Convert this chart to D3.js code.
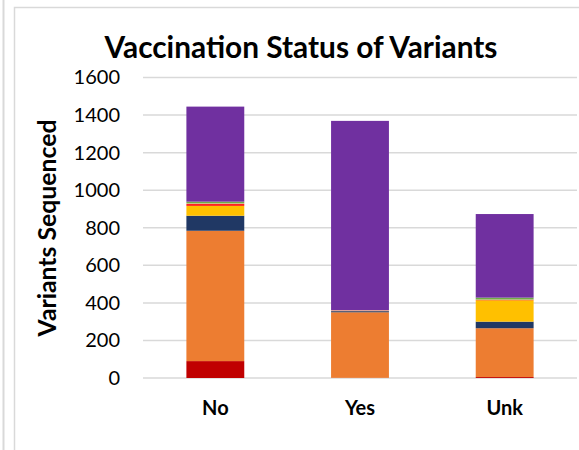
<!DOCTYPE html>
<html>
<head>
<meta charset="utf-8">
<script src="https://cdn.jsdelivr.net/npm/d3@7"></script>
<style>
  body { margin: 0; background: #fff; }
  text { font-family: Lato, "Open Sans", sans-serif; fill: #000; }
</style>
</head>
<body>
<div id="chart"></div>
<script>
// categories and stacked series (bottom to top)
var categories = ['No', 'Yes', 'Unk'];
var seriesNames = ['Other', 'Delta', 'Alpha', 'Gamma', 'Mu', 'BA.2', 'BA.1.1', 'Omicron'];
var seriesColors = ['#C00000', '#ED7D31', '#203864', '#FFC000', '#FF0000', '#F4B183', '#70AD47', '#7030A0'];
var otherVals   = [90, 1, 5];
var deltaVals   = [694, 349, 260];
var alphaVals   = [80, 6, 35];
var gammaVals   = [53, 0, 114];
var muVals      = [9, 0, 2];
var ba2Vals     = [4, 5, 2];
var ba11Vals    = [9, 0, 10];
var omicronVals = [506, 1008, 445];
var yTicks = [0, 200, 400, 600, 800, 1000, 1200, 1400, 1600];

var W = 579, H = 450;
var svg = d3.select('#chart').append('svg').attr('width', W).attr('height', H);

// frame lines
svg.append('line').attr('x1', 3.5).attr('x2', 3.5).attr('y1', 0).attr('y2', H)
    .attr('stroke', '#D9D9D9').attr('stroke-width', 2);
svg.append('path').attr('d', 'M14.5,' + H + 'V7.5H' + W)
    .attr('fill', 'none').attr('stroke', '#D9D9D9').attr('stroke-width', 1.5);

var allSeries = [otherVals, deltaVals, alphaVals, gammaVals, muVals, ba2Vals, ba11Vals, omicronVals];
var rows = categories.map(function(c, i) {
    var r = {cat: c};
    seriesNames.forEach(function(s, j) { r[s] = allSeries[j][i]; });
    return r;
});

var x = d3.scaleBand().domain(categories).range([143, 577]).paddingInner(0.6).paddingOuter(0.3);
var y = d3.scaleLinear().domain([0, 1600]).range([378, 77.5]);

// gridlines
svg.append('g').selectAll('line').data(yTicks).enter().append('line')
    .attr('x1', 143).attr('x2', 577)
    .attr('y1', function(d) { return y(d); }).attr('y2', function(d) { return y(d); })
    .attr('stroke', '#D9D9D9').attr('stroke-width', 1.5);

var stack = d3.stack().keys(seriesNames)(rows);
svg.append('g').selectAll('g').data(stack).enter().append('g')
    .attr('fill', function(d, i) { return seriesColors[i]; })
  .selectAll('rect').data(function(d) { return d; }).enter().append('rect')
    .attr('x', function(d) { return x(d.data.cat); })
    .attr('width', x.bandwidth())
    .attr('y', function(d) { return y(d[1]); })
    .attr('height', function(d) { return y(d[0]) - y(d[1]); });

// y axis labels
var yAxis = svg.append('g').attr('transform', 'translate(120,0)')
    .call(d3.axisLeft(y).tickValues(yTicks).tickFormat(d3.format('d')).tickSize(0).tickPadding(0));
yAxis.select('.domain').remove();
yAxis.selectAll('text').style('font-family', 'Lato').style('font-size', '20px').attr('fill', '#000');

// x axis labels
var xAxis = svg.append('g').attr('transform', 'translate(0,401)')
    .call(d3.axisBottom(x).tickSize(0).tickPadding(0));
xAxis.select('.domain').remove();
xAxis.selectAll('text').style('font-family', 'Lato').style('font-size', '20px')
    .style('font-weight', 'bold').attr('fill', '#000');

function fit(t, w) {
    var len = t.node().getComputedTextLength();
    var fs = parseFloat(t.style('font-size'));
    t.style('font-size', (fs * w / len) + 'px');
}

var title = svg.append('text').attr('x', 301).attr('y', 58).attr('text-anchor', 'middle')
    .style('font-size', '26px').style('font-weight', 'bold').text('Vaccination Status of Variants');
fit(title, 393);

var ylab = svg.append('text').attr('transform', 'translate(56,228) rotate(-90)')
    .attr('text-anchor', 'middle').style('font-size', '20px').style('font-weight', 'bold')
    .text('Variants Sequenced');
fit(ylab, 217);
</script>
</body>
</html>
